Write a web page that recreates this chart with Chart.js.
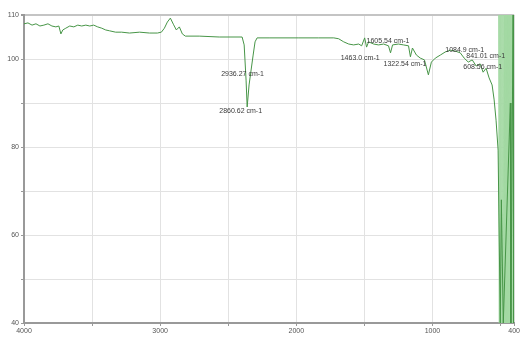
<!DOCTYPE html>
<html>
<head>
<meta charset="utf-8">
<script src="https://cdn.jsdelivr.net/npm/chart.js@4.4.1/dist/chart.umd.min.js"></script>
<style>
  html, body { margin: 0; padding: 0; background: #fff; }
  #spectrum { display: block; }
</style>
</head>
<body>
<canvas id="spectrum" width="521" height="338"></canvas>
<script>
// IR trace, wavenumber (cm-1) vs transmittance (%)
const wavenumber = [
  4000, 3971, 3941, 3912, 3883, 3854, 3824, 3795, 3766, 3744, 3729, 3715,
  3693, 3664, 3634, 3605, 3576, 3546, 3517, 3488, 3459, 3429, 3400, 3371,
  3327, 3283, 3225, 3151, 3078, 3020, 2991, 2969, 2947, 2925, 2903, 2881,
  2859, 2837, 2815, 2713, 2566, 2398, 2383, 2369, 2361, 2347, 2332, 2317,
  2303, 2288, 2200, 1981, 1835, 1725, 1689, 1652, 1615, 1579, 1542, 1520,
  1498, 1484, 1469, 1432, 1396, 1359, 1323, 1308, 1293, 1250, 1213, 1176,
  1162, 1147, 1118, 1089, 1059, 1030, 1008, 979, 942, 906, 869, 833,
  796, 767, 737, 708, 679, 650, 628, 606, 584, 562, 547, 533,
  518, 502, 494, 480, 428, 424, 408, 404
];
const transmittance = [
  108.0, 108.2, 107.7, 108.0, 107.5, 107.7, 108.0, 107.5, 107.3, 107.5, 105.7, 106.6,
  107.0, 107.5, 107.3, 107.7, 107.5, 107.7, 107.5, 107.7, 107.3, 107.0, 106.6, 106.4,
  106.1, 106.1, 105.9, 106.1, 105.9, 105.9, 106.1, 107.0, 108.4, 109.3, 107.9, 106.6,
  107.3, 105.7, 105.2, 105.2, 105.0, 105.0, 103.2, 95.2, 89.1, 94.1, 97.5, 100.9,
  103.9, 104.8, 104.8, 104.8, 104.8, 104.8, 104.6, 103.9, 103.4, 103.2, 103.4, 103.0,
  104.8, 102.7, 103.9, 103.4, 103.2, 103.4, 103.0, 101.4, 103.2, 103.4, 103.2, 103.0,
  100.5, 102.5, 100.9, 100.2, 99.8, 96.4, 99.3, 100.2, 100.9, 101.6, 102.0, 101.8,
  101.4, 100.2, 99.3, 99.8, 98.4, 98.9, 97.0, 97.9, 95.7, 94.1, 90.7, 86.1,
  79.3, 40, 68, 40, 90, 40, 110, 40
];

// dense noise at the low-wavenumber end (shows as a solid band)
const noiseWavenumber = [
  514, 510, 506, 502, 498, 494, 490, 486, 482, 478, 474, 470, 466, 462,
  458, 454, 450, 446, 442, 438, 434, 430, 426, 422, 418, 414, 410, 406, 402
];
const noiseTransmittance = [
  110, 40, 110, 40, 110, 40, 110, 40, 110, 40, 110, 40, 110, 40,
  110, 40, 110, 40, 110, 40, 110, 40, 110, 40, 110, 40, 110, 40, 110
];

// peak annotations (anchored in data units)
const peakLabels = [
  '2936.27 cm-1', '2860.62 cm-1', '1605.54 cm-1', '1463.0 cm-1',
  '1322.54 cm-1', '1084.9 cm-1', '841.01 cm-1', '608.56 cm-1'
];
const peakWn = [2552, 2566, 1484, 1674, 1359, 906, 752, 774];
const peakT = [96.6, 88.2, 104.1, 100.2, 98.9, 102.0, 100.7, 98.2];

const xTickValues = [4000, 3500, 3000, 2500, 2000, 1500, 1000, 500, 400];
const xTickLabels = ['4000', '', '3000', '', '2000', '', '1000', '', '400'];
const yTickValues = [40, 50, 60, 70, 80, 90, 100, 110];
const yTickLabels = ['40', '', '60', '', '80', '', '100', '110'];

const FONT = { family: 'Liberation Sans', size: 7 };

const peakLabelPlugin = {
  id: 'peakLabels',
  afterDatasetsDraw(chart) {
    const { ctx, scales } = chart;
    ctx.save();
    ctx.font = '7px "Liberation Sans"';
    ctx.fillStyle = '#3a3a3a';
    ctx.textAlign = 'left';
    ctx.textBaseline = 'middle';
    peakLabels.forEach((txt, i) => {
      ctx.fillText(txt, scales.x.getPixelForValue(peakWn[i]), scales.y.getPixelForValue(peakT[i]));
    });
    ctx.restore();
  }
};

new Chart(document.getElementById('spectrum'), {
  type: 'line',
  data: {
    datasets: [
      {
        data: wavenumber.map((w, i) => ({ x: w, y: transmittance[i] })),
        borderColor: '#479547',
        borderWidth: 1,
        pointRadius: 0,
        tension: 0,
        order: 0
      },
      {
        data: noiseWavenumber.map((w, i) => ({ x: w, y: noiseTransmittance[i] })),
        borderColor: '#a3d9a3',
        borderWidth: 1,
        pointRadius: 0,
        tension: 0,
        order: 1
      }
    ]
  },
  options: {
    responsive: false,
    animation: false,
    layout: { padding: { top: 15, right: 3, left: 0, bottom: 0 } },
    plugins: { legend: { display: false }, tooltip: { enabled: false } },
    scales: {
      x: {
        type: 'linear',
        reverse: true,
        min: 400,
        max: 4000,
        afterBuildTicks: s => { s.ticks = xTickValues.map(v => ({ value: v })); },
        afterFit: s => { s.height = 15; },
        ticks: {
          autoSkip: false,
          maxRotation: 0,
          padding: 1,
          color: '#555',
          font: FONT,
          callback: v => xTickLabels[xTickValues.indexOf(v)]
        },
        grid: { color: '#e2e2e2', tickLength: 3, tickColor: '#999' },
        border: { color: '#999', width: 2 }
      },
      y: {
        min: 40,
        max: 110,
        afterBuildTicks: s => { s.ticks = yTickValues.map(v => ({ value: v })); },
        afterFit: s => { s.width = 24; },
        ticks: {
          autoSkip: false,
          padding: 2,
          color: '#555',
          font: FONT,
          callback: v => yTickLabels[yTickValues.indexOf(v)]
        },
        grid: {
          color: c => (c.tick && c.tick.value === 110 ? '#c4c4c4' : '#e2e2e2'),
          lineWidth: c => (c.tick && c.tick.value === 110 ? 2 : 1),
          tickLength: 3,
          tickColor: '#999'
        },
        border: { color: '#999', width: 2 }
      }
    }
  },
  plugins: [peakLabelPlugin]
});
</script>
</body>
</html>
